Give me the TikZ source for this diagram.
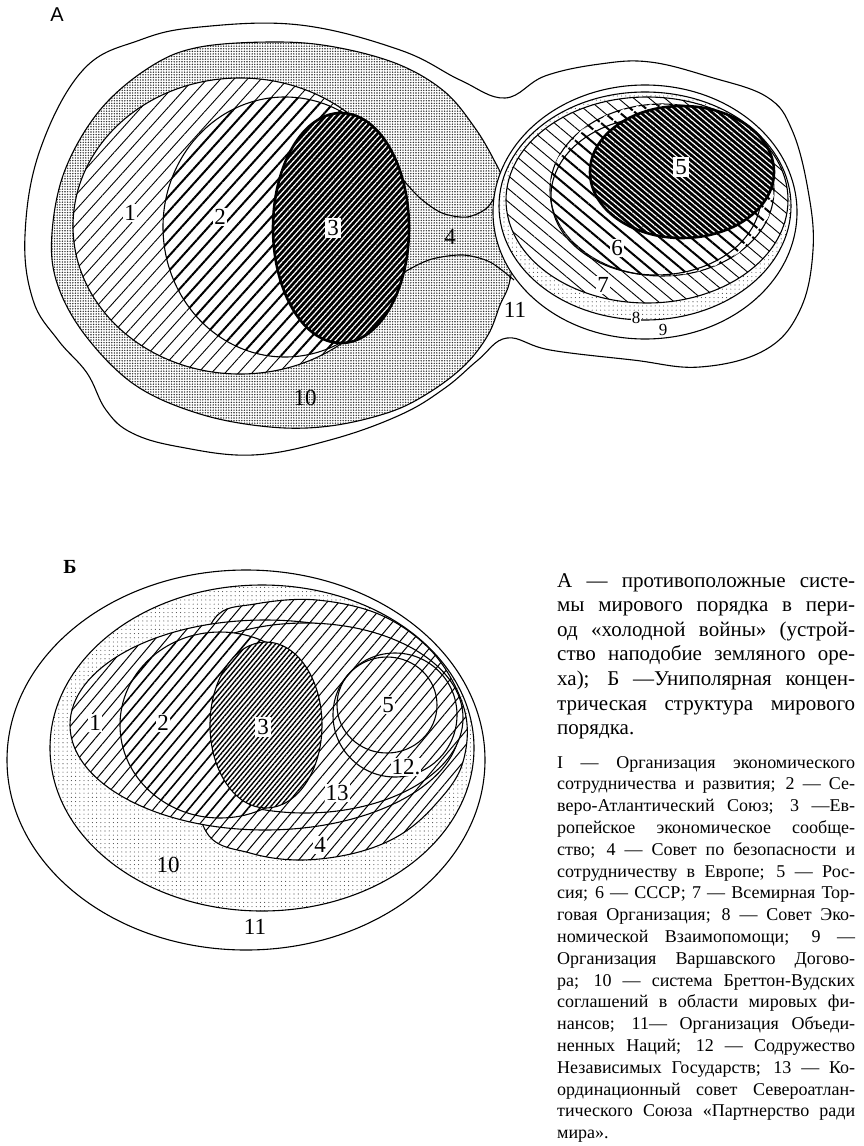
\documentclass[tikz,border=0pt]{standalone}
\usepackage{fontspec}
\setmainfont{Liberation Serif}
\setsansfont{Liberation Sans}
\newfontfamily\bigserif{Liberation Serif}[Scale=1.25]
\usetikzlibrary{patterns.meta}

\begin{document}
\begin{tikzpicture}[
    x=1pt, y=-1pt,
    line join=round,
    contour/.style={draw=black, line width=1.1pt},
    stipple/.style={preaction={fill=white},
      pattern={Dots[radius=0.8pt, distance=2.6pt]}, pattern color=black!80},
    light stipple/.style={preaction={fill=white},
      pattern={Dots[radius=0.55pt, distance=4.2pt]}, pattern color=black!70},
    hatch ne/.style={preaction={fill=white},
      pattern={Lines[angle=48, distance=10pt, line width=0.9pt]}},
    bold hatch ne/.style={preaction={fill=white},
      pattern={Lines[angle=48, distance=10pt, line width=2pt]}},
    dark ne/.style={preaction={fill=black},
      pattern={Lines[angle=48, distance=4.2pt, line width=1.2pt]}, pattern color=white},
    hatch nw/.style={preaction={fill=white},
      pattern={Lines[angle=-40, distance=10pt, line width=0.9pt]}},
    bold hatch nw/.style={preaction={fill=white},
      pattern={Lines[angle=-40, distance=10pt, line width=2pt]}},
    dark nw/.style={preaction={fill=black},
      pattern={Lines[angle=-40, distance=4.2pt, line width=1.2pt]}, pattern color=white},
    hatch b/.style={preaction={fill=white},
      pattern={Lines[angle=50, distance=9pt, line width=1pt]}},
    bold hatch b/.style={preaction={fill=white},
      pattern={Lines[angle=50, distance=9pt, line width=1.6pt]}},
    dense hatch b/.style={preaction={fill=white},
      pattern={Lines[angle=50, distance=3.6pt, line width=1.4pt]}},
    num/.style={font=\fontsize{18.4}{18.4}\bigserif, inner sep=1pt},
    small num/.style={font=\fontsize{17}{17}\selectfont, inner sep=0.5pt, fill=white},
    boxed num/.style={num, fill=white, inner sep=2.5pt},
    caption/.style={anchor=north west, inner sep=0pt, text width=298pt, align=justify,
      font=\fontsize{16.8}{24.6}\bigserif},
    legend/.style={anchor=north west, inner sep=0pt, text width=298pt, align=justify,
      font=\fontsize{18}{21.8}\selectfont}
  ]
  \useasboundingbox[fill=white] (0,0) rectangle (863,1146);

  % --- A: the two blocs
  \draw[contour] plot[smooth cycle, tension=0.65] coordinates {
    (83,70) (140,40) (200,27) (300,25) (400,50) (460,80) (505,98) (545,76)
    (600,64) (650,62) (710,77) (767,97) (792,130) (808,190) (813,250)
    (800,310) (765,350) (700,367) (633,360) (550,350) (507,338) (478,360)
    (445,388) (400,415) (330,440) (253,455) (180,447) (132,433) (106,410)
    (87,373) (58,340) (33,300) (25,235) (40,150)};
  \draw[contour, stipple] plot[smooth cycle, tension=0.6] coordinates {
    (200,47) (280,42) (340,48) (400,65) (445,92) (475,128) (494,160)
    (505,185) (515,230) (510,280) (500,305) (488,335) (465,365) (430,392)
    (390,412) (330,426) (270,427) (200,414) (135,385) (85,335) (57,283)
    (52,233) (65,170) (100,110) (150,67)};
  \draw[contour] plot[smooth] coordinates {
    (380,150) (400,176) (420,198) (442,213) (467,217) (488,207) (502,182)};
  \draw[contour] plot[smooth] coordinates {
    (385,285) (408,270) (432,259) (463,255) (490,262) (514,280)};
  \draw[contour, hatch ne] (240,226) ellipse [x radius=167, y radius=148];
  \draw[contour, bold hatch ne] (285,227) ellipse [x radius=122, y radius=130];
  \draw[line width=2.6pt, dark ne] (341,228) ellipse [x radius=68, y radius=115];

  \draw[contour, fill=white] (645,212) ellipse [x radius=152, y radius=127];
  \draw[contour, light stipple] (645,206) ellipse [x radius=146, y radius=114];
  \draw[contour, hatch nw] (647,200) ellipse [x radius=141, y radius=103];
  \draw[contour, bold hatch nw] (662,190) ellipse [x radius=112, y radius=86];
  \begin{scope}
    \clip (662,190) ellipse [x radius=112, y radius=86];
    \path[even odd rule, pattern={Lines[angle=50, distance=9pt, line width=1.6pt]},
      pattern color=white]
      (662,190) ellipse [x radius=112, y radius=86]
      (656,196) ellipse [x radius=105, y radius=79];
  \end{scope}
  \draw[contour] (656,196) ellipse [x radius=105, y radius=79];
  \draw[line width=2.6pt, dark nw] (682,172) ellipse [x radius=92, y radius=66];

  \node[font=\sffamily\fontsize{20}{20}\selectfont, inner sep=0pt] (tagA) at (57,15) {А};
  \node[num, fill=white] (a1) at (130,213) {1};
  \node[num, fill=white] (a2) at (220,217) {2};
  \node[boxed num] (a3) at (333,228) {3};
  \node[num] (a4) at (450,237) {4};
  \node[boxed num] (a5) at (681,167) {5};
  \node[num, fill=white] (a6) at (617,248) {6};
  \node[num, fill=white] (a7) at (603,285) {7};
  \node[small num] (a8) at (636,318) {8};
  \node[small num] (a9) at (663,330) {9};
  \node[num] (a10) at (305,398) {10};
  \node[num] (a11) at (515,310) {11};

  % --- Б: the concentric structure
  \draw[contour] (246,760) ellipse [x radius=239, y radius=190];
  \draw[contour, light stipple] (262,748) ellipse [x radius=212, y radius=163];
  \draw[contour, hatch b] plot[smooth cycle, tension=0.6] coordinates {
    (215,618) (255,604) (317,600) (383,616) (435,655) (465,712) (462,765)
    (435,805) (400,835) (355,853) (300,860) (250,853) (207,833) (190,760)
    (195,680)};
  \draw[contour, hatch b] (265,725) ellipse [x radius=195, y radius=105];
  \draw[contour, hatch b] (305,718) ellipse [x radius=158, y radius=95];
  \draw[contour, bold hatch b] (220,725) ellipse [x radius=100, y radius=93];
  \draw[contour, dense hatch b] (266,725) ellipse [x radius=56, y radius=83];
  \draw[contour, hatch b] (395,715) circle [radius=62];
  \draw[contour, hatch b] (387,705) ellipse [x radius=50, y radius=48];

  \node[font=\bfseries\fontsize{20}{20}\selectfont, inner sep=0pt] (tagB) at (70,567) {Б};
  \node[num, fill=white] (b1) at (95,723) {1};
  \node[num, fill=white] (b2) at (163,723) {2};
  \node[boxed num] (b3) at (263,727) {3};
  \node[num, fill=white] (b4) at (320,845) {4};
  \node[num, fill=white] (b5) at (388,705) {5};
  \node[num] (b10) at (168,865) {10};
  \node[num] (b11) at (255,927) {11};
  \node[num, fill=white] (b12) at (406,767) {12.};
  \node[num, fill=white] (b13) at (337,793) {13};

  % --- caption
  \node[caption] (capA) at (557,573) {\tolerance=10000\hyphenpenalty=10000\exhyphenpenalty=10000
    А — противоположные систе-\linebreak мы мирового порядка в пери-\linebreak
    од «холодной войны» (устрой-\linebreak ство наподобие земляного оре-\linebreak
    ха); Б —Униполярная концен-\linebreak трическая структура мирового\linebreak
    порядка.};
  \node[legend] (keys) at (557,756) {\tolerance=10000\hyphenpenalty=10000\exhyphenpenalty=10000
    I — Организация экономического\linebreak сотрудничества и развития; 2 — Се-\linebreak
    веро-Атлантический Союз; 3 —Ев-\linebreak ропейское экономическое сообще-\linebreak
    ство; 4 — Совет по безопасности и\linebreak сотрудничеству в Европе; 5 — Рос-\linebreak
    сия; 6 — СССР; 7 — Всемирная Тор-\linebreak говая Организация; 8 — Совет Эко-\linebreak
    номической Взаимопомощи; 9 —\linebreak Организация Варшавского Догово-\linebreak
    ра; 10 — система Бреттон-Вудских\linebreak соглашений в области мировых фи-\linebreak
    нансов; 11— Организация Объеди-\linebreak ненных Наций; 12 — Содружество\linebreak
    Независимых Государств; 13 — Ко-\linebreak ординационный совет Североатлан-\linebreak
    тического Союза «Партнерство ради\linebreak мира».};
\end{tikzpicture}
\end{document}
